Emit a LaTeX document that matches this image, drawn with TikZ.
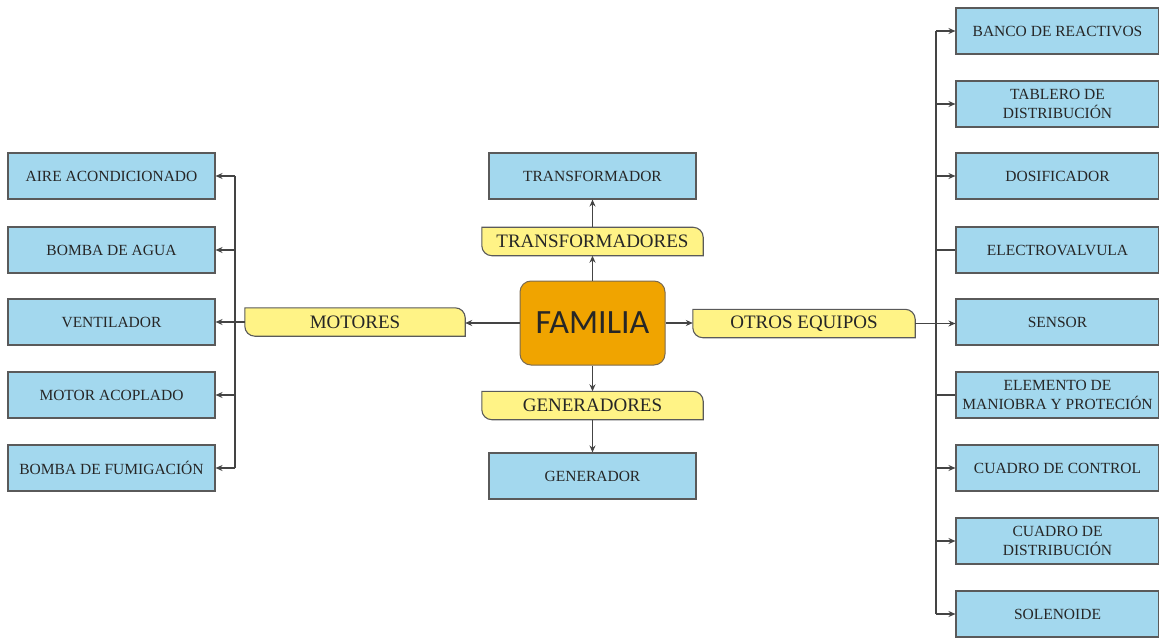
\documentclass[tikz,border=0pt]{standalone}
\usepackage{fontspec}
\setmainfont{Liberation Serif}
\newfontfamily\famfont{Carlito}
\usetikzlibrary{arrows.meta,calc}
\pgfdeclarelayer{background}
\pgfsetlayers{background,main}

\definecolor{boxblue}{HTML}{A3D8EE}
\definecolor{boxline}{HTML}{5A5A5A}
\definecolor{labyellow}{HTML}{FFF386}
\definecolor{famorange}{HTML}{F0A400}
\definecolor{famline}{HTML}{7A6A50}
\definecolor{wire}{HTML}{444444}

\tikzset{
  itembox/.style={rectangle, draw=boxline, line width=1.1pt, fill=boxblue,
    minimum width=207pt, minimum height=46pt, inner sep=0pt, align=center,
    font=\fontsize{15.5}{19}\selectfont, text=black!85},
  rightbox/.style={itembox, minimum width=203pt},
  labslot/.style={rectangle, minimum width=221pt, minimum height=28pt, inner sep=0pt,
    font=\fontsize{19}{21}\selectfont, text=black!85},
  labshape/.style={draw=boxline, line width=1.1pt, fill=labyellow},
  famnode/.style={rectangle, rounded corners=11pt, draw=famline, line width=1pt,
    fill=famorange, minimum width=145pt, minimum height=84pt, inner sep=0pt,
    font=\famfont\fontsize{34}{36}\selectfont, text=black!85},
  wireline/.style={draw=wire, line width=1.3pt},
  arr/.style={wireline, -{Stealth[length=7pt,width=6pt]}}
}

% yellow tab: rounded top-right and bottom-left corners
\newcommand{\tabshape}[1]{%
  \begin{pgfonlayer}{background}
    \path[labshape] (#1.north west) -- ([xshift=-10pt]#1.north east)
      arc[start angle=90,end angle=0,radius=10pt] -- (#1.south east)
      -- ([xshift=10pt]#1.south west)
      arc[start angle=270,end angle=180,radius=10pt] -- cycle;
  \end{pgfonlayer}}

\begin{document}
\begin{tikzpicture}[x=1pt,y=1pt]
\useasboundingbox (0,0) rectangle (1159,-639);

% central node
\node[famnode] (fam) at (592.5,-323) {FAMILIA};

% category tabs
\node[labslot, minimum width=220pt] (mot) at (355,-322) {MOTORES};
\tabshape{mot}
\node[labslot] (trf) at (592.5,-241.5) {TRANSFORMADORES};
\tabshape{trf}
\node[labslot] (gen) at (592.5,-405.5) {GENERADORES};
\tabshape{gen}
\node[labslot, minimum width=222pt] (otr) at (804,-323.5) {OTROS EQUIPOS};
\tabshape{otr}

% single items
\node[itembox] (trfbox) at (592.5,-176) {TRANSFORMADOR};
\node[itembox] (genbox) at (592.5,-476) {GENERADOR};

% motors
\node[itembox] (l1) at (111.5,-176) {AIRE ACONDICIONADO};
\node[itembox] (l2) at (111.5,-250) {BOMBA DE AGUA};
\node[itembox] (l3) at (111.5,-322) {VENTILADOR};
\node[itembox] (l4) at (111.5,-395) {MOTOR ACOPLADO};
\node[itembox] (l5) at (111.5,-468) {BOMBA DE FUMIGACIÓN};

% other equipment
\node[rightbox] (r1) at (1057.5,-31) {BANCO DE REACTIVOS};
\node[rightbox] (r2) at (1057.5,-104) {TABLERO DE\\DISTRIBUCIÓN};
\node[rightbox] (r3) at (1057.5,-176) {DOSIFICADOR};
\node[rightbox] (r4) at (1057.5,-250) {ELECTROVALVULA};
\node[rightbox] (r5) at (1057.5,-322) {SENSOR};
\node[rightbox] (r6) at (1057.5,-395) {ELEMENTO DE\\MANIOBRA Y PROTECIÓN};
\node[rightbox] (r7) at (1057.5,-468) {CUADRO DE CONTROL};
\node[rightbox] (r8) at (1057.5,-541) {CUADRO DE\\DISTRIBUCIÓN};
\node[rightbox] (r9) at (1057.5,-614) {SOLENOIDE};

% bus positions
\coordinate (busL) at (235,0);
\coordinate (busR) at (936,0);

% centre to tabs
\draw[arr] (fam.west) -- (fam.west -| mot.east);
\draw[arr] (fam.north) -- (trf.south);
\draw[arr] (fam.south) -- (gen.north);
\draw[arr] (fam.east) -- (fam.east -| otr.west);

% tabs to items
\draw[arr] (trf.north) -- (trfbox.south);
\draw[arr] (gen.south) -- (genbox.north);

% motors bus
\draw[wireline] (l1.east -| busL) -- (l5.east -| busL);
\draw[arr] (mot.west) -- (mot.west -| l3.east);
\foreach \n in {l1,l2,l4,l5}
  \draw[arr] (\n.east -| busL) -- (\n.east);

% other equipment bus
\draw[wireline] (r1.west -| busR) -- (r9.west -| busR);
\draw[arr] (otr.east) -- (otr.east -| r5.west);
\foreach \n in {r1,r2,r3,r7,r8,r9}
  \draw[arr] (\n.west -| busR) -- (\n.west);
\foreach \n in {r4,r6}
  \draw[wireline] (\n.west -| busR) -- (\n.west);
\end{tikzpicture}
\end{document}
